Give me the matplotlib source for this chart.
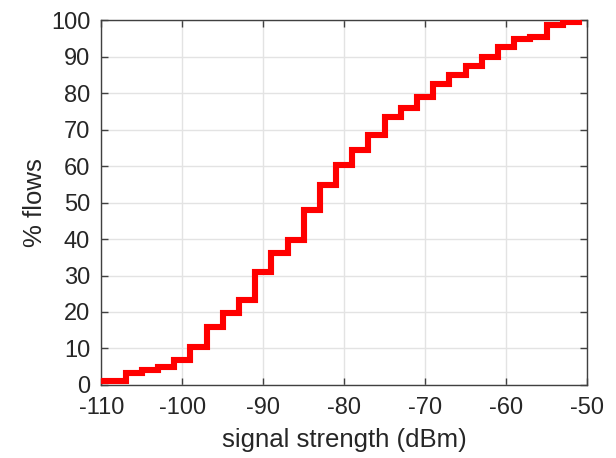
import matplotlib
matplotlib.use("Agg")
import matplotlib.pyplot as plt

# step edges (dBm) and CDF level (% flows) starting at each edge
signal_dbm = [-110, -107, -105, -103, -101, -99, -97, -95, -93, -91, -89, -87, -85,
              -83, -81, -79, -77, -75, -73, -71, -69, -67, -65, -63, -61, -59, -57,
              -55, -53, -51]
pct_flows = [1.1, 3.4, 4.1, 5.0, 6.8, 10.5, 15.8, 19.8, 23.3, 31.0, 36.1, 39.7, 47.9,
             54.8, 60.3, 64.4, 68.5, 73.5, 76.0, 79.0, 82.6, 84.9, 87.4, 89.9, 92.7, 94.8, 95.4,
             98.6, 99.4, 99.4]

x_ticks = [-110, -100, -90, -80, -70, -60, -50]
y_ticks = [0, 10, 20, 30, 40, 50, 60, 70, 80, 90, 100]

plt.rcParams['font.family'] = ['Liberation Sans', 'DejaVu Sans']
plt.rcParams['axes.unicode_minus'] = False

fig = plt.figure(figsize=(6.16, 4.58), dpi=100)
ax = fig.add_axes([0.1645, 0.1594, 0.7885, 0.7969])

ax.step(signal_dbm, pct_flows, where='post', color='#ff0000', linewidth=4.4,
        solid_joinstyle='miter', zorder=3)

ax.set_xlim(-110, -50)
ax.set_ylim(0, 100)
ax.set_xticks(x_ticks)
ax.set_yticks(y_ticks)
ax.grid(True, color='#e3e3e3', linewidth=1.0)
ax.set_axisbelow(True)

txt = '#262626'
ax.tick_params(direction='in', length=5, width=1, colors='#404040',
               labelcolor=txt, labelsize=17, top=True, right=True)
ax.tick_params(axis='x', pad=9)
ax.tick_params(axis='y', pad=8)
for s in ax.spines.values():
    s.set_color('#404040')
    s.set_linewidth(1.0)

ax.set_xlabel('signal strength (dBm)', fontsize=18.5, color='#262626', labelpad=6)
ax.set_ylabel('% flows', fontsize=18.5, color='#262626', labelpad=2.5)

fig.savefig('out.png', dpi=100)
